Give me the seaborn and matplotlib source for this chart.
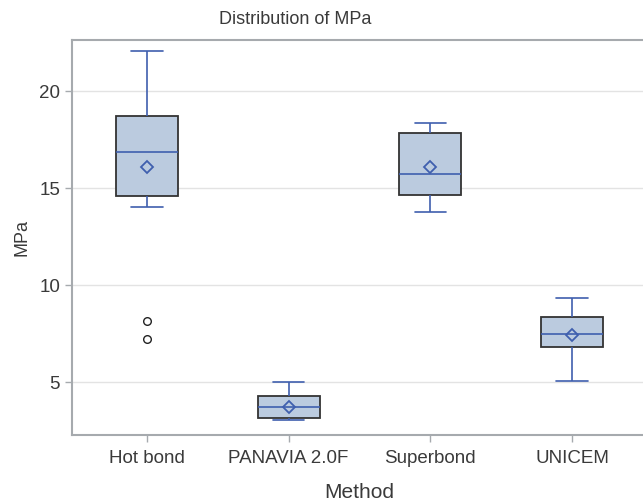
import numpy as np
import pandas as pd
import matplotlib
matplotlib.use("Agg")
import matplotlib.pyplot as plt
import seaborn as sns

# Values per method
hot_bond = [7.22, 8.14, 14.02, 14.78, 15.6, 16.5, 17.22, 17.9, 18.5, 19.34, 21.68, 22.06]
panavia = [3.04, 3.06, 3.1, 3.153, 3.16, 3.6, 3.82, 3.85, 4.26, 4.34, 4.38, 5.0]
superbond = [13.76, 14.2, 14.55, 14.67, 15.2, 15.5, 15.94, 16.53, 17.7, 18.26, 18.3, 18.35]
unicem = [5.05, 6.2, 6.7, 6.833, 6.9, 7.3, 7.64, 7.7, 8.3, 8.5, 8.587, 9.33]

methods = ["Hot bond", "PANAVIA 2.0F", "Superbond", "UNICEM"]
y_ticks = [5, 10, 15, 20]

df = pd.DataFrame({
    "Method": np.repeat(methods, 12),
    "MPa": hot_bond + panavia + superbond + unicem,
})

sns.set_style("white")
plt.rcParams["font.family"] = ["Liberation Sans", "DejaVu Sans"]

line_blue = "#3F5FAE"
txt = "#3a3a3a"
frame = "#A6AAAE"

fig = plt.figure(figsize=(6.43, 5.04), dpi=100)
ax = fig.add_axes([72 / 643, 69 / 504, 575 / 643, 395 / 504])

sns.boxplot(
    data=df, x="Method", y="MPa", order=methods, ax=ax,
    width=0.44, color="#BBCBDF", linewidth=1.2,
    showmeans=True,
    boxprops=dict(facecolor="#BBCBDF", edgecolor="#333333", linewidth=1.3),
    whiskerprops=dict(color=line_blue, linewidth=1.2),
    capprops=dict(color=line_blue, linewidth=1.2),
    medianprops=dict(color=line_blue, linewidth=1.2),
    meanprops=dict(marker="D", markerfacecolor="none", markeredgecolor=line_blue,
                   markeredgewidth=1.3, markersize=6.5),
    flierprops=dict(marker="o", markerfacecolor="none", markeredgecolor="#222222",
                    markeredgewidth=1.0, markersize=5.5),
)

ax.set_xlim(-0.53, 3.53)
ax.set_ylim(2.27, 22.63)
ax.set_yticks(y_ticks)
ax.yaxis.grid(True, color="#E3E3E3", linewidth=1)
ax.set_axisbelow(True)

for side in ["left", "bottom", "top"]:
    ax.spines[side].set_color(frame)
    ax.spines[side].set_linewidth(1.5)
ax.spines["right"].set_visible(False)

ax.tick_params(axis="both", colors=frame, length=5, width=1, direction="out",
               labelcolor=txt, labelsize=13.5, left=True, bottom=True)
ax.tick_params(axis="x", pad=6)

fig.text(295 / 643, 1 - 20 / 504, "Distribution of MPa", fontsize=13,
         color=txt, ha="center", va="center")
ax.set_xlabel("Method", fontsize=15, color=txt, labelpad=11)
ax.set_ylabel("MPa", fontsize=13, color=txt, labelpad=6)

fig.savefig("out.png", dpi=100)
